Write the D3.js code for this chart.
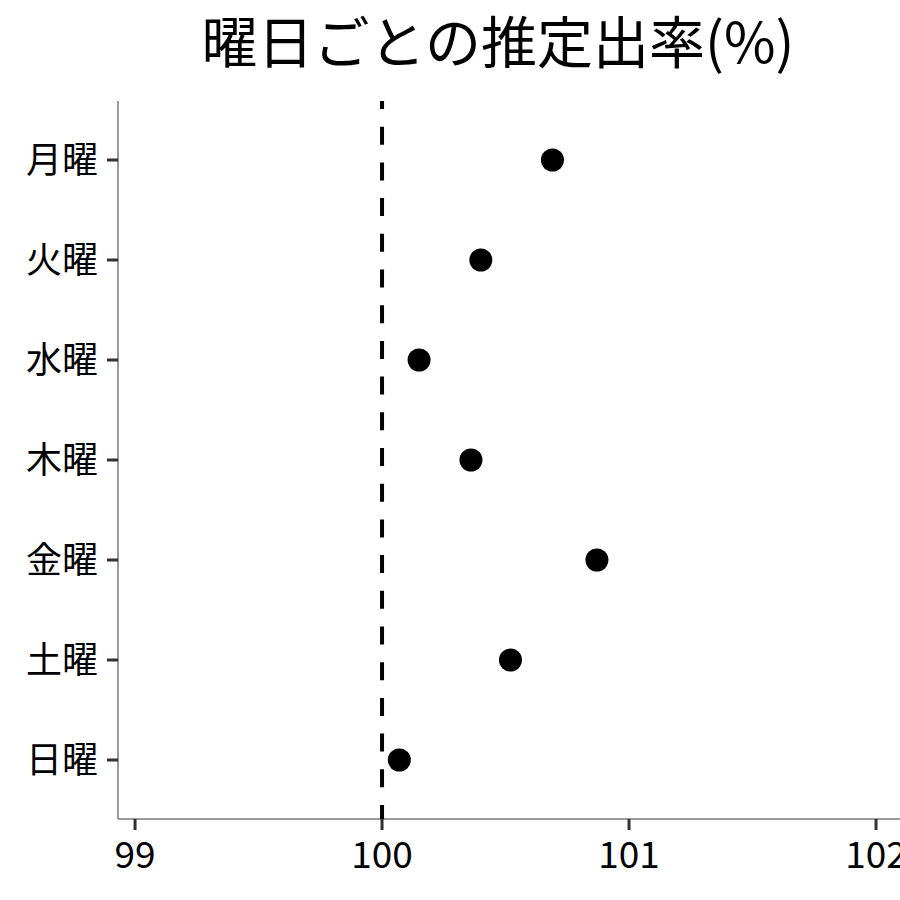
<!DOCTYPE html>
<meta charset="utf-8">
<style>
    body { margin: 0; background: #fff; }
    text { font-family: "Noto Sans CJK JP", "Noto Sans", sans-serif; }
</style>
<body>
<script src="https://cdn.jsdelivr.net/npm/d3@7"></script>
<script>

    var width = 900,
        height = 900;

    // data
    var days = ["月曜", "火曜", "水曜", "木曜", "金曜", "土曜", "日曜"];
    var rates = [100.69, 100.40, 100.15, 100.36, 100.87, 100.52, 100.07];
    var xTicks = [99, 100, 101, 102];
    var refValue = 100;

    var plotLeft = 118, plotRight = 960, plotTop = 101, plotBottom = 819;

    var x = d3.scaleLinear()
        .domain([98.931, 102.34])
        .range([plotLeft, plotRight]);

    var y = d3.scalePoint()
        .domain(days)
        .range([160, 760]);

    var svg = d3.select("body").append("svg")
        .attr("width", width)
        .attr("height", height);

    svg.append("text")
        .attr("x", 498)
        .attr("y", 63)
        .attr("text-anchor", "middle")
        .style("font-size", "56px")
        .text("曜日ごとの推定出率(%)");

    // axes
    svg.append("line")
        .attr("x1", plotLeft).attr("x2", plotLeft)
        .attr("y1", plotTop).attr("y2", plotBottom)
        .attr("stroke", "#7a7a7a").attr("stroke-width", 1.5);
    svg.append("line")
        .attr("x1", plotLeft).attr("x2", width)
        .attr("y1", plotBottom).attr("y2", plotBottom)
        .attr("stroke", "#7a7a7a").attr("stroke-width", 1.5);

    var yAxis = svg.append("g");
    yAxis.selectAll("line")
        .data(days)
        .enter().append("line")
        .attr("x1", plotLeft - 11).attr("x2", plotLeft)
        .attr("y1", function(d) { return y(d); })
        .attr("y2", function(d) { return y(d); })
        .attr("stroke", "#333").attr("stroke-width", 3);
    yAxis.selectAll("text")
        .data(days)
        .enter().append("text")
        .attr("x", plotLeft - 20)
        .attr("y", function(d) { return y(d); })
        .attr("dy", "0.36em")
        .attr("text-anchor", "end")
        .style("font-size", "36px")
        .text(function(d) { return d; });

    var xAxis = svg.append("g");
    xAxis.selectAll("line")
        .data(xTicks)
        .enter().append("line")
        .attr("x1", function(d) { return x(d); })
        .attr("x2", function(d) { return x(d); })
        .attr("y1", plotBottom).attr("y2", plotBottom + 11)
        .attr("stroke", "#333").attr("stroke-width", 3);
    xAxis.selectAll("text")
        .data(xTicks)
        .enter().append("text")
        .attr("x", function(d) { return x(d); })
        .attr("y", 868)
        .attr("text-anchor", "middle")
        .style("font-size", "37px")
        .text(function(d) { return d; });

    // reference line
    svg.append("line")
        .attr("x1", x(refValue)).attr("x2", x(refValue))
        .attr("y1", plotTop).attr("y2", plotBottom)
        .attr("stroke", "#000")
        .attr("stroke-width", 4)
        .attr("stroke-dasharray", "18,17.7")
        .attr("stroke-dashoffset", 10);

    svg.append("g")
        .selectAll("circle")
        .data(rates)
        .enter().append("circle")
        .attr("cx", function(d) { return x(d); })
        .attr("cy", function(d, i) { return y(days[i]); })
        .attr("r", 11.5)
        .attr("fill", "#000");

</script>
